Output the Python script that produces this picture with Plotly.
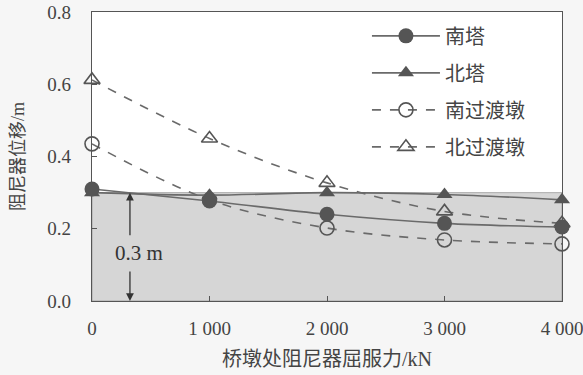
import plotly.graph_objects as go

x_force = [0, 1000, 2000, 3000, 4000]
x_ticklabels = ["0", "1 000", "2 000", "3 000", "4 000"]
south_tower = [0.31, 0.277, 0.24, 0.215, 0.205]
north_tower = [0.30, 0.293, 0.30, 0.295, 0.28]
south_pier = [0.435, 0.28, 0.202, 0.169, 0.158]
north_pier = [0.612, 0.45, 0.327, 0.248, 0.215]
names = ["南塔", "北塔", "南过渡墩", "北过渡墩"]

cjk = "Liberation Serif, Noto Sans CJK SC"
line_col = "#6a6a6a"
mk_col = "#555555"

fig = go.Figure()
series = [
    (south_pier, names[2], "dash", dict(symbol="circle-open", size=14, color=mk_col, line=dict(width=1.6, color=mk_col)), 3),
    (north_pier, names[3], "dash", dict(symbol="triangle-up-open", size=14, color=mk_col, line=dict(width=1.6, color=mk_col)), 4),
    (north_tower, names[1], "solid", dict(symbol="triangle-up", size=14, color=mk_col), 2),
    (south_tower, names[0], "solid", dict(symbol="circle", size=15, color=mk_col), 1),
]
for y, nm, dash, mk, rank in series:
    fig.add_trace(go.Scatter(
        x=x_force, y=y, name=nm, mode="lines+markers",
        line=dict(color=line_col, width=1.6, dash=dash, shape="spline"),
        marker=mk, cliponaxis=False, legendrank=rank, legendgroup=nm,
    ))

fig.add_shape(type="rect", x0=0, x1=4000, y0=0, y1=0.3, xref="x", yref="y",
              fillcolor="#d6d6d6", line=dict(color="#9a9a9a", width=0.8), layer="below")

# double arrow for 0.3 m
fig.add_annotation(x=323, y=0.3, ax=323, ay=0.178, xref="x", yref="y", axref="x", ayref="y",
                   text="", showarrow=True, arrowhead=2, arrowsize=1.2, arrowwidth=1.3, arrowcolor="#333")
fig.add_annotation(x=323, y=0.0, ax=323, ay=0.086, xref="x", yref="y", axref="x", ayref="y",
                   text="", showarrow=True, arrowhead=2, arrowsize=1.2, arrowwidth=1.3, arrowcolor="#333")
fig.add_annotation(x=400, y=0.133, xref="x", yref="y", text="0.3 m", showarrow=False,
                   font=dict(family=cjk, size=21, color="#333"))

fig.update_layout(
    width=583, height=375,
    margin=dict(l=92, r=21, t=12, b=74),
    paper_bgcolor="#f6f6f6", plot_bgcolor="#ffffff",
    font=dict(family=cjk, size=19, color="#444"),
    showlegend=True,
    legend=dict(x=0.585, y=0.985, xanchor="left", yanchor="top", bgcolor="rgba(0,0,0,0)",
                traceorder="grouped", tracegroupgap=8, itemwidth=68,
                font=dict(family=cjk, size=20, color="#444")),
    xaxis=dict(range=[0, 4000], tickvals=x_force, ticktext=x_ticklabels,
               ticks="inside", ticklen=5, tickcolor="#555", showline=True, linecolor="#555",
               linewidth=1.2, mirror=True, showgrid=False, zeroline=False, automargin=False,
               ticklabelstandoff=10, ticklabeloverflow="allow",
               title=dict(text="桥墩处阻尼器屈服力/kN", standoff=14, font=dict(size=20)),
               tickfont=dict(size=19)),
    yaxis=dict(range=[0, 0.8], tickvals=[0, 0.2, 0.4, 0.6, 0.8],
               ticktext=["0.0", "0.2", "0.4", "0.6", "0.8"],
               ticks="inside", ticklen=5, tickcolor="#555", showline=True, linecolor="#555",
               linewidth=1.2, mirror=True, showgrid=False, zeroline=False, automargin=False,
               ticklabelstandoff=16, ticklabeloverflow="allow",
               title=dict(text="阻尼器位移/m", standoff=18, font=dict(size=18)),
               tickfont=dict(size=19)),
)

fig.write_html("out.html", config={"displayModeBar": False},
               post_script="document.body.style.margin='0';")
